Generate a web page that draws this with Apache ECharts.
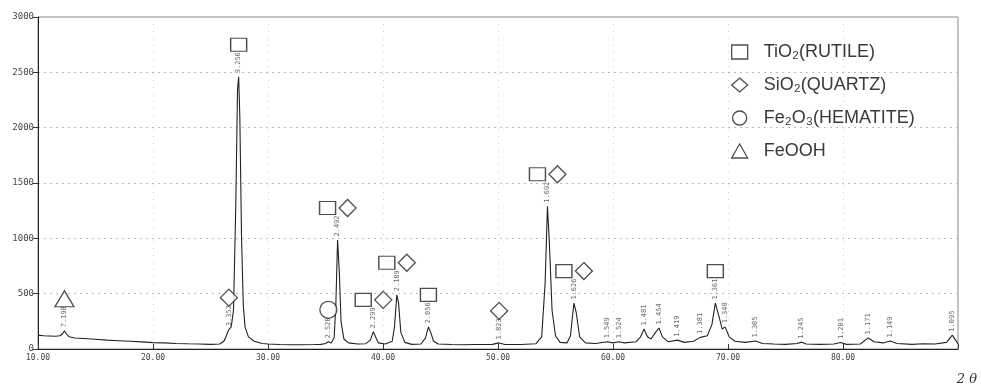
<!DOCTYPE html>
<html>
<head>
<meta charset="utf-8">
<script src="https://cdn.jsdelivr.net/npm/echarts@6/dist/echarts.min.js"></script>
<style>
html,body{margin:0;padding:0;background:#fff;}
#chart{width:981px;height:386px;}
</style>
</head>
<body>
<div id="chart"></div>
<script>
// Diffraction trace: [2theta, counts]
var traceX = [10.0,10.5,11.0,11.5,11.9,12.15,12.3,12.45,12.7,13.2,14,15,16,17,18,19,20,21,22,23,24,25,25.8,26.2,26.45,26.6,26.8,27.0,27.2,27.35,27.45,27.55,27.7,27.85,28.0,28.3,28.8,29.5,30,31,32,33,34,34.6,35.0,35.25,35.5,35.75,35.9,36.05,36.2,36.35,36.6,37,37.8,38.5,38.9,39.15,39.35,39.6,40.2,40.8,41.0,41.2,41.35,41.55,41.9,42.5,43.3,43.7,43.95,44.15,44.4,44.8,46,47,48,49.5,50.1,50.6,52,53.3,53.8,54.1,54.3,54.45,54.7,55.0,55.4,56.0,56.3,56.6,56.8,57.1,57.6,58.5,59.5,60.0,60.5,61.0,62.0,62.4,62.7,63.0,63.3,63.7,64.0,64.3,64.8,65.6,66.2,67.0,67.6,68.2,68.6,68.9,69.2,69.5,69.75,70.1,70.6,71.5,72.4,73.0,74,75,76.0,76.4,76.8,78,79.2,79.8,80.3,81.5,82.2,82.7,83.5,84.1,84.7,86,87,88,89.0,89.5,89.8,90.0];
var traceY = [125,120,118,115,120,140,165,140,110,100,95,88,80,75,70,64,58,55,50,47,45,42,45,75,140,175,200,350,1300,2350,2460,2100,1000,400,200,110,70,50,45,40,38,38,40,42,50,65,55,100,400,985,700,250,90,55,45,48,80,155,110,55,45,70,200,490,420,150,60,42,45,100,200,150,70,45,40,38,40,42,55,40,40,48,110,600,1290,1000,350,120,60,55,120,415,330,110,55,50,65,55,65,55,65,110,180,110,90,150,190,110,65,80,60,70,105,120,220,415,300,180,200,110,70,60,72,50,45,42,50,62,45,42,45,58,42,45,100,65,55,72,50,42,48,45,60,125,80,45];

// Labelled peaks: position, height, d-spacing text
var peakX = [12.3,26.6,27.45,35.25,36.05,39.15,41.2,43.95,50.1,54.3,56.6,59.5,60.5,62.7,64.0,65.6,67.6,68.9,69.75,72.4,76.4,79.8,82.2,84.1,89.5];
var peakY = [165,175,2460,65,985,155,490,200,55,1290,415,65,65,180,190,80,105,415,200,72,62,58,100,72,125];
var peakD = ['7.198','3.352','3.256','2.520','2.492','2.299','2.189','2.056','1.823','1.692','1.626','1.549','1.524','1.481','1.454','1.419','1.381','1.361','1.348','1.305','1.245','1.201','1.171','1.149','1.095'];

// Phase identification (indices into the peak arrays)
var phaseNames = ['TiO\u2082(RUTILE)','SiO\u2082(QUARTZ)','Fe\u2082O\u2083(HEMATITE)','FeOOH'];
var rutilePeaks = [2,4,5,6,7,9,10,17];
var quartzPeaks = [1,4,5,6,8,9,10];
var hematitePeaks = [3];
var feoohPeaks = [0];

var yTicks = [0,500,1000,1500,2000,2500,3000];

var trace = traceX.map(function(x,i){return [x, traceY[i]];});
var peaks = peakX.map(function(x,i){return [x, peakY[i], peakD[i]];});

function markerData(list, other, dx){
  return list.map(function(i){
    var paired = other.indexOf(i) >= 0;
    return {value:[peakX[i], peakY[i]], symbolOffset:[paired ? dx : 0, -32]};
  });
}

var markerStyle = {color:'#fff', borderColor:'#222', borderWidth:1.3};

var chart = echarts.init(document.getElementById('chart'));
chart.setOption({
  animation:false,
  backgroundColor:'#fff',
  grid:{left:38, right:23, top:17, bottom:37, show:true, borderColor:'#888', borderWidth:1},
  legend:{
    orient:'vertical', left:731, top:42, padding:0, itemGap:13, itemWidth:16, itemHeight:14,
    data:phaseNames,
    textStyle:{fontFamily:'Liberation Sans, Arial, sans-serif', fontSize:18, lineHeight:20, color:'#3a3a3a', padding:[0,0,0,11]},
    itemStyle:{color:'#fff', borderColor:'#222', borderWidth:1.3}
  },
  xAxis:{
    type:'value', min:10, max:90, interval:10,
    axisLine:{show:true, lineStyle:{color:'#222', width:1}},
    axisTick:{show:true, inside:true, length:5, lineStyle:{color:'#333'}},
    axisLabel:{fontSize:8, color:'#444', fontFamily:'DejaVu Sans Mono, monospace', margin:5,
      formatter:function(v){return v>=90 ? '' : v.toFixed(2);}},
    splitLine:{show:true, lineStyle:{color:'#ccc', type:[1,6], width:1}}
  },
  yAxis:{
    type:'value', min:0, max:3000, interval:500,
    axisLine:{show:true, lineStyle:{color:'#222', width:1}},
    axisTick:{show:true, inside:false, length:5, lineStyle:{color:'#333'}},
    axisLabel:{fontSize:9, color:'#444', fontFamily:'DejaVu Sans Mono, monospace', margin:4,
      formatter:function(v){return yTicks.indexOf(v)>=0 ? String(v) : '';}},
    splitLine:{show:true, lineStyle:{color:'#bbb', type:[2,4], width:1}}
  },
  graphic:[{
    type:'text', right:4, bottom:0,
    style:{text:'2 \u03b8', font:'italic 13px "DejaVu Serif", serif', fill:'#333'}
  }],
  series:[
    {type:'line', data:trace, showSymbol:false, symbol:'none', silent:true,
     lineStyle:{color:'#222', width:1.1}, z:2},
    {type:'scatter', data:peaks, symbolSize:1, silent:true,
     itemStyle:{color:'rgba(0,0,0,0)'},
     label:{show:true, position:'top', distance:3, rotate:90, align:'left', verticalAlign:'middle',
       fontSize:7, color:'#444', fontFamily:'DejaVu Sans Mono, monospace',
       formatter:function(p){return p.value[2];}}, z:3},
    {name:phaseNames[0], type:'scatter', symbol:'rect', symbolSize:[16,13],
     data:markerData(rutilePeaks, quartzPeaks, -10), itemStyle:markerStyle, z:4},
    {name:phaseNames[1], type:'scatter', symbol:'diamond', symbolSize:[17,17],
     data:markerData(quartzPeaks, rutilePeaks, 10), itemStyle:markerStyle, z:4},
    {name:phaseNames[2], type:'scatter', symbol:'circle', symbolSize:17,
     data:markerData(hematitePeaks, [], 0), itemStyle:markerStyle, z:4},
    {name:phaseNames[3], type:'scatter', symbol:'triangle', symbolSize:[19,16],
     data:markerData(feoohPeaks, [], 0), itemStyle:markerStyle, z:4}
  ]
});
</script>
</body>
</html>
